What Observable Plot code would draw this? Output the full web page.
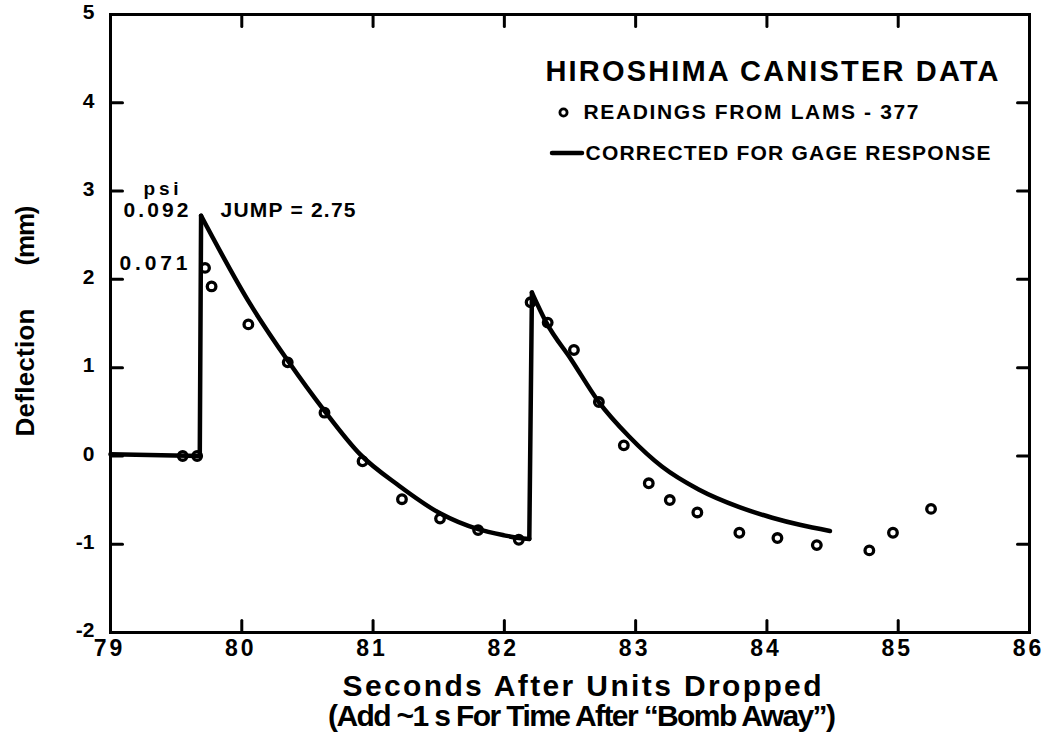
<!DOCTYPE html>
<html>
<head>
<meta charset="utf-8">
<script src="https://cdn.jsdelivr.net/npm/d3@7"></script>
<script src="https://cdn.jsdelivr.net/npm/@observablehq/plot@0.6"></script>
<style>
  html, body { margin: 0; padding: 0; background: #fff; }
  #chart svg { display: block; }
</style>
</head>
<body>
<div id="chart"></div>
<script>
// Readings from LAMS-377 (seconds, mm)
const readingsX = [79.55, 79.66, 79.72, 79.77, 80.05, 80.35, 80.63, 80.92, 81.22, 81.51, 81.80, 82.11,
                   82.20, 82.33, 82.53, 82.72, 82.91, 83.10, 83.26, 83.47, 83.79, 84.08, 84.38, 84.78, 84.96, 85.25];
const readingsY = [0.00, 0.00, 2.13, 1.92, 1.49, 1.06, 0.49, -0.06, -0.49, -0.71, -0.84, -0.95,
                   1.74, 1.51, 1.20, 0.61, 0.12, -0.31, -0.50, -0.64, -0.87, -0.93, -1.01, -1.07, -0.87, -0.60];

// Corrected for gage response: straight pieces (baseline + jumps) and smooth decays
const curvePart = ["jump1", "jump1", "jump1",
                   "decay1", "decay1", "decay1", "decay1", "decay1", "decay1", "decay1", "decay1", "decay1", "decay1", "decay1",
                   "jump2", "jump2",
                   "decay2", "decay2", "decay2", "decay2", "decay2", "decay2", "decay2", "decay2", "decay2", "decay2", "decay2"];
const curveX = [79.00, 79.68, 79.69,
                79.69, 80.06, 80.35, 80.63, 80.90, 81.20, 81.51, 81.80, 82.00, 82.11, 82.19,
                82.19, 82.21,
                82.21, 82.32, 82.51, 82.72, 82.95, 83.20, 83.48, 83.79, 84.04, 84.25, 84.48];
const curveY = [0.02, 0.00, 2.72,
                2.72, 1.73, 1.08, 0.51, 0.02, -0.34, -0.65, -0.83, -0.90, -0.93, -0.94,
                -0.94, 1.85,
                1.85, 1.51, 1.09, 0.61, 0.22, -0.12, -0.38, -0.58, -0.70, -0.78, -0.85];

const xTicks = [79, 80, 81, 82, 83, 84, 85, 86];
const yTicks = [-2, -1, 0, 1, 2, 3, 4, 5];

const titleText = "HIROSHIMA CANISTER DATA";
const legendReadings = "READINGS FROM LAMS - 377";
const legendCorrected = "CORRECTED FOR GAGE RESPONSE";
const xLabel1 = "Seconds After Units Dropped";
const xLabel2 = "(Add ~1 s For Time After \u201cBomb Away\u201d)";
const yLabelMain = "Deflection";
const yLabelUnit = "(mm)";
const psiLabel = "psi";
const psiHigh = "0.092";
const psiLow = "0.071";
const jumpLabel = "JUMP = 2.75";

const readings = readingsX.map((x, i) => ({x, y: readingsY[i]}));
const curve = curveX.map((x, i) => ({x, y: curveY[i], part: curvePart[i]}));
const straight = curve.filter(d => d.part.startsWith("jump"));
const smooth = curve.filter(d => d.part.startsWith("decay"));

const font = "'Liberation Sans', Arial, Helvetica, sans-serif";
const W = 1044, H = 738, mL = 110, mR = 15, mT = 14, mB = 106;
const tickLen = 12;

// a plain straight tick drawn from the anchor inward
const tickShape = {draw(context, l) { context.moveTo(0, 0); context.lineTo(0, -l); }};
const inwardTicks = (data, channel, frameAnchor, rotate) =>
  Plot.vector(data, {[channel]: d => d, frameAnchor, rotate, length: tickLen, anchor: "start",
    shape: tickShape, stroke: "#000", strokeWidth: 3});

function legendLine(x1, x2, y) {
  return (index, scales, values, dims) => d3.create("svg:line")
      .attr("x1", dims.marginLeft + x1).attr("x2", dims.marginLeft + x2)
      .attr("y1", dims.marginTop + y).attr("y2", dims.marginTop + y)
      .attr("stroke", "#000").attr("stroke-width", 4.5).attr("stroke-linecap", "round").node();
}

const label = (t, opts) => Plot.text([t], {text: d => d, fill: "#000", fontWeight: "bold", ...opts});

const chart = Plot.plot({
  width: W, height: H,
  marginLeft: mL, marginRight: mR, marginTop: mT, marginBottom: mB,
  style: {fontFamily: font, fontWeight: "bold", background: "#fff", color: "#000"},
  x: {domain: [79, 86]},
  y: {domain: [-2, 5]},
  marks: [
    // inward ticks on all four sides
    inwardTicks(xTicks, "x", "bottom", 0),
    inwardTicks(xTicks, "x", "top", 180),
    inwardTicks(yTicks, "y", "left", 90),
    inwardTicks(yTicks, "y", "right", 270),
    Plot.frame({stroke: "#000", strokeWidth: 3}),
    Plot.axisX(xTicks, {anchor: "bottom", tickSize: 0, tickPadding: 7, fontSize: 23, fontWeight: "bold",
      label: null, tickFormat: d => String(d), dx: -1}),
    Plot.axisY(yTicks, {anchor: "left", tickSize: 0, tickPadding: 16, fontSize: 21, fontWeight: "bold",
      label: null, tickFormat: d => String(d), dy: -2}),
    Plot.dot(readings, {x: "x", y: "y", r: 4.3, stroke: "#000", strokeWidth: 3.3, fill: "#fff"}),
    Plot.line(straight, {x: "x", y: "y", z: "part", curve: "linear", stroke: "#000", strokeWidth: 4.5,
      strokeLinejoin: "round", strokeLinecap: "round"}),
    Plot.line(smooth, {x: "x", y: "y", z: "part", curve: "monotone-x", stroke: "#000", strokeWidth: 4.5,
      strokeLinejoin: "round", strokeLinecap: "round"}),
    // Title and legend
    label(titleText, {frameAnchor: "top-left", dx: 435, dy: 57, textAnchor: "start", lineAnchor: "middle", fontSize: 29}),
    Plot.dot([0], {frameAnchor: "top-left", dx: 453, dy: 98, r: 3.6, stroke: "#000", strokeWidth: 2.8, fill: "#fff"}),
    label(legendReadings, {frameAnchor: "top-left", dx: 473, dy: 98, textAnchor: "start", lineAnchor: "middle", fontSize: 21}),
    legendLine(442, 472, 139),
    label(legendCorrected, {frameAnchor: "top-left", dx: 475, dy: 139, textAnchor: "start", lineAnchor: "middle", fontSize: 21}),
    // Annotations
    label(psiLabel, {frameAnchor: "top-left", dx: 33, dy: 174, textAnchor: "start", lineAnchor: "middle", fontSize: 19}),
    label(psiHigh, {frameAnchor: "top-left", dx: 13, dy: 196, textAnchor: "start", lineAnchor: "middle", fontSize: 21}),
    label(jumpLabel, {frameAnchor: "top-left", dx: 110, dy: 196, textAnchor: "start", lineAnchor: "middle", fontSize: 21}),
    label(psiLow, {frameAnchor: "top-left", dx: 9, dy: 249, textAnchor: "start", lineAnchor: "middle", fontSize: 21}),
    // Axis titles
    label(xLabel1, {frameAnchor: "bottom", dx: 12, dy: 54, textAnchor: "middle", lineAnchor: "middle", fontSize: 30}),
    label(xLabel2, {frameAnchor: "bottom", dx: 12, dy: 84, textAnchor: "middle", lineAnchor: "middle", fontSize: 30}),
    label(yLabelMain, {frameAnchor: "left", dx: -85, dy: 49, rotate: -90, textAnchor: "middle", lineAnchor: "middle", fontSize: 26}),
    label(yLabelUnit, {frameAnchor: "left", dx: -85, dy: -88, rotate: -90, textAnchor: "middle", lineAnchor: "middle", fontSize: 26})
  ]
});

// widen the tracking of the lettering to the original's widths
const lengths = new Map([
  [titleText, 453], [legendReadings, 335], [legendCorrected, 405],
  [xLabel1, 479], [xLabel2, 508], [psiLabel, 35], [psiHigh, 65], [psiLow, 68], [jumpLabel, 135],
  [yLabelMain, 128], [yLabelUnit, 60]
]);
d3.select(chart).selectAll("text").each(function() {
  const len = lengths.get(this.textContent);
  if (len) d3.select(this).attr("textLength", len).attr("lengthAdjust", "spacing");
});
d3.select(chart).selectAll('g[aria-label="x-axis tick label"] text').style("letter-spacing", "3px");

document.getElementById("chart").appendChild(chart);
</script>
</body>
</html>
